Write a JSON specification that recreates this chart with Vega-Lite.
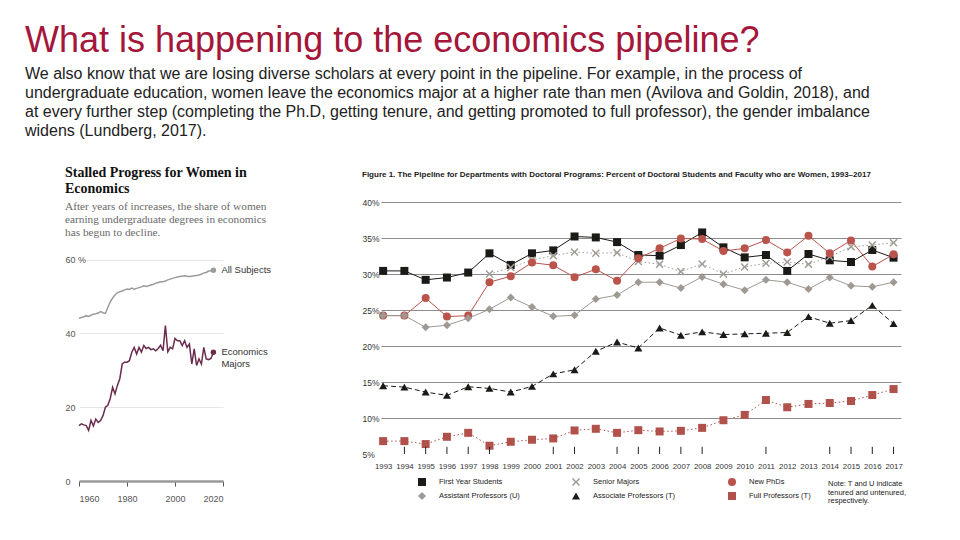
{
  "$schema": "https://vega.github.io/schema/vega-lite/v6.json",
  "background": "white",
  "padding": {"left": 25, "top": 22, "right": 5, "bottom": 5},
  "title": {
    "text": "What is happening to the economics pipeline?",
    "subtitle": [
      "\u00a0We also know that we are losing diverse scholars at every point in the pipeline. For example, in the process of",
      "\u00a0undergraduate education, women leave the economics major at a higher rate than men (Avilova and Goldin, 2018), and",
      "\u00a0at every further step (completing the Ph.D, getting tenure, and getting promoted to full professor), the gender imbalance",
      "\u00a0widens (Lundberg, 2017)."
    ],
    "anchor": "start",
    "frame": "bounds",
    "dx": -40,
    "font": "Liberation Sans",
    "fontSize": 36,
    "fontWeight": "normal",
    "color": "#a4163a",
    "subtitleFont": "Liberation Sans",
    "subtitleFontSize": 16,
    "subtitleColor": "#222222",
    "subtitleLineHeight": 19,
    "subtitlePadding": 6,
    "offset": 26
  },
  "spacing": 90,
  "datasets": {
    "left": [
      {"series": "All Subjects", "year": 1960, "pct": 44.1},
      {"series": "All Subjects", "year": 1961, "pct": 44.3},
      {"series": "All Subjects", "year": 1962, "pct": 44.5},
      {"series": "All Subjects", "year": 1963, "pct": 44.8},
      {"series": "All Subjects", "year": 1964, "pct": 44.6},
      {"series": "All Subjects", "year": 1965, "pct": 44.9},
      {"series": "All Subjects", "year": 1966, "pct": 45.2},
      {"series": "All Subjects", "year": 1967, "pct": 45.3},
      {"series": "All Subjects", "year": 1968, "pct": 45.5},
      {"series": "All Subjects", "year": 1969, "pct": 45.9},
      {"series": "All Subjects", "year": 1970, "pct": 45.6},
      {"series": "All Subjects", "year": 1971, "pct": 45.4},
      {"series": "All Subjects", "year": 1972, "pct": 47.0},
      {"series": "All Subjects", "year": 1973, "pct": 48.5},
      {"series": "All Subjects", "year": 1974, "pct": 49.6},
      {"series": "All Subjects", "year": 1975, "pct": 50.4},
      {"series": "All Subjects", "year": 1976, "pct": 51.0},
      {"series": "All Subjects", "year": 1977, "pct": 51.3},
      {"series": "All Subjects", "year": 1978, "pct": 51.5},
      {"series": "All Subjects", "year": 1979, "pct": 51.8},
      {"series": "All Subjects", "year": 1980, "pct": 52.0},
      {"series": "All Subjects", "year": 1981, "pct": 51.9},
      {"series": "All Subjects", "year": 1982, "pct": 52.3},
      {"series": "All Subjects", "year": 1983, "pct": 52.0},
      {"series": "All Subjects", "year": 1984, "pct": 52.2},
      {"series": "All Subjects", "year": 1985, "pct": 52.4},
      {"series": "All Subjects", "year": 1986, "pct": 52.6},
      {"series": "All Subjects", "year": 1987, "pct": 52.9},
      {"series": "All Subjects", "year": 1988, "pct": 52.7},
      {"series": "All Subjects", "year": 1989, "pct": 52.9},
      {"series": "All Subjects", "year": 1990, "pct": 53.1},
      {"series": "All Subjects", "year": 1991, "pct": 53.3},
      {"series": "All Subjects", "year": 1992, "pct": 53.6},
      {"series": "All Subjects", "year": 1993, "pct": 53.8},
      {"series": "All Subjects", "year": 1994, "pct": 54.0},
      {"series": "All Subjects", "year": 1995, "pct": 54.0},
      {"series": "All Subjects", "year": 1996, "pct": 54.2},
      {"series": "All Subjects", "year": 1997, "pct": 54.5},
      {"series": "All Subjects", "year": 1998, "pct": 54.7},
      {"series": "All Subjects", "year": 1999, "pct": 54.9},
      {"series": "All Subjects", "year": 2000, "pct": 55.1},
      {"series": "All Subjects", "year": 2001, "pct": 55.3},
      {"series": "All Subjects", "year": 2002, "pct": 55.4},
      {"series": "All Subjects", "year": 2003, "pct": 55.5},
      {"series": "All Subjects", "year": 2004, "pct": 55.6},
      {"series": "All Subjects", "year": 2005, "pct": 55.5},
      {"series": "All Subjects", "year": 2006, "pct": 55.4},
      {"series": "All Subjects", "year": 2007, "pct": 55.5},
      {"series": "All Subjects", "year": 2008, "pct": 55.6},
      {"series": "All Subjects", "year": 2009, "pct": 55.7},
      {"series": "All Subjects", "year": 2010, "pct": 55.8},
      {"series": "All Subjects", "year": 2011, "pct": 56.0},
      {"series": "All Subjects", "year": 2012, "pct": 56.4},
      {"series": "All Subjects", "year": 2013, "pct": 56.5},
      {"series": "All Subjects", "year": 2014, "pct": 56.9},
      {"series": "All Subjects", "year": 2015, "pct": 57.0},
      {"series": "All Subjects", "year": 2016, "pct": 57.1},
      {"series": "Economics Majors", "year": 1960, "pct": 15.0},
      {"series": "Economics Majors", "year": 1961, "pct": 15.5},
      {"series": "Economics Majors", "year": 1962, "pct": 15.2},
      {"series": "Economics Majors", "year": 1963, "pct": 15.0},
      {"series": "Economics Majors", "year": 1964, "pct": 13.7},
      {"series": "Economics Majors", "year": 1965, "pct": 16.4},
      {"series": "Economics Majors", "year": 1966, "pct": 14.9},
      {"series": "Economics Majors", "year": 1967, "pct": 16.8},
      {"series": "Economics Majors", "year": 1968, "pct": 15.9},
      {"series": "Economics Majors", "year": 1969, "pct": 16.4},
      {"series": "Economics Majors", "year": 1970, "pct": 17.7},
      {"series": "Economics Majors", "year": 1971, "pct": 20.0},
      {"series": "Economics Majors", "year": 1972, "pct": 20.5},
      {"series": "Economics Majors", "year": 1973, "pct": 22.3},
      {"series": "Economics Majors", "year": 1974, "pct": 25.4},
      {"series": "Economics Majors", "year": 1975, "pct": 23.6},
      {"series": "Economics Majors", "year": 1976, "pct": 25.9},
      {"series": "Economics Majors", "year": 1977, "pct": 27.7},
      {"series": "Economics Majors", "year": 1978, "pct": 31.7},
      {"series": "Economics Majors", "year": 1979, "pct": 32.2},
      {"series": "Economics Majors", "year": 1980, "pct": 32.2},
      {"series": "Economics Majors", "year": 1981, "pct": 32.6},
      {"series": "Economics Majors", "year": 1982, "pct": 34.9},
      {"series": "Economics Majors", "year": 1983, "pct": 36.2},
      {"series": "Economics Majors", "year": 1984, "pct": 34.4},
      {"series": "Economics Majors", "year": 1985, "pct": 36.2},
      {"series": "Economics Majors", "year": 1986, "pct": 34.9},
      {"series": "Economics Majors", "year": 1987, "pct": 36.7},
      {"series": "Economics Majors", "year": 1988, "pct": 35.9},
      {"series": "Economics Majors", "year": 1989, "pct": 36.2},
      {"series": "Economics Majors", "year": 1990, "pct": 35.6},
      {"series": "Economics Majors", "year": 1991, "pct": 35.8},
      {"series": "Economics Majors", "year": 1992, "pct": 35.3},
      {"series": "Economics Majors", "year": 1993, "pct": 35.9},
      {"series": "Economics Majors", "year": 1994, "pct": 36.8},
      {"series": "Economics Majors", "year": 1995, "pct": 35.3},
      {"series": "Economics Majors", "year": 1996, "pct": 42.1},
      {"series": "Economics Majors", "year": 1997, "pct": 35.0},
      {"series": "Economics Majors", "year": 1998, "pct": 36.2},
      {"series": "Economics Majors", "year": 1999, "pct": 35.8},
      {"series": "Economics Majors", "year": 2000, "pct": 38.6},
      {"series": "Economics Majors", "year": 2001, "pct": 38.0},
      {"series": "Economics Majors", "year": 2002, "pct": 38.0},
      {"series": "Economics Majors", "year": 2003, "pct": 36.7},
      {"series": "Economics Majors", "year": 2004, "pct": 38.0},
      {"series": "Economics Majors", "year": 2005, "pct": 36.2},
      {"series": "Economics Majors", "year": 2006, "pct": 37.1},
      {"series": "Economics Majors", "year": 2007, "pct": 31.7},
      {"series": "Economics Majors", "year": 2008, "pct": 35.8},
      {"series": "Economics Majors", "year": 2009, "pct": 31.3},
      {"series": "Economics Majors", "year": 2010, "pct": 33.1},
      {"series": "Economics Majors", "year": 2011, "pct": 31.7},
      {"series": "Economics Majors", "year": 2012, "pct": 36.2},
      {"series": "Economics Majors", "year": 2013, "pct": 33.1},
      {"series": "Economics Majors", "year": 2014, "pct": 32.9},
      {"series": "Economics Majors", "year": 2015, "pct": 33.2},
      {"series": "Economics Majors", "year": 2016, "pct": 34.9}
    ],
    "leftLabels": [
      {"series": "All Subjects", "year": 2016, "pct": 57.1, "label": "All Subjects"},
      {"series": "Economics Majors", "year": 2016, "pct": 34.9, "label": "Economics\nMajors"}
    ],
    "tickYears": [
      {"year": 1994}, {"year": 1995}, {"year": 1996}, {"year": 1997}, {"year": 1998},
      {"year": 2001}, {"year": 2002}, {"year": 2004}, {"year": 2005}, {"year": 2006},
      {"year": 2007}, {"year": 2008}, {"year": 2011}, {"year": 2014}, {"year": 2015},
      {"year": 2016}, {"year": 2017}
    ],
    "pipe": [
      {"series": "First Year Students", "year": 1993, "pct": 30.43},
      {"series": "First Year Students", "year": 1994, "pct": 30.43},
      {"series": "First Year Students", "year": 1995, "pct": 29.19},
      {"series": "First Year Students", "year": 1996, "pct": 29.51},
      {"series": "First Year Students", "year": 1997, "pct": 30.2},
      {"series": "First Year Students", "year": 1998, "pct": 32.87},
      {"series": "First Year Students", "year": 1999, "pct": 31.26},
      {"series": "First Year Students", "year": 2000, "pct": 32.87},
      {"series": "First Year Students", "year": 2001, "pct": 33.28},
      {"series": "First Year Students", "year": 2002, "pct": 35.21},
      {"series": "First Year Students", "year": 2003, "pct": 35.08},
      {"series": "First Year Students", "year": 2004, "pct": 34.43},
      {"series": "First Year Students", "year": 2005, "pct": 32.64},
      {"series": "First Year Students", "year": 2006, "pct": 32.55},
      {"series": "First Year Students", "year": 2007, "pct": 34.02},
      {"series": "First Year Students", "year": 2008, "pct": 35.77},
      {"series": "First Year Students", "year": 2009, "pct": 33.7},
      {"series": "First Year Students", "year": 2010, "pct": 32.31},
      {"series": "First Year Students", "year": 2011, "pct": 32.64},
      {"series": "First Year Students", "year": 2012, "pct": 30.43},
      {"series": "First Year Students", "year": 2013, "pct": 32.78},
      {"series": "First Year Students", "year": 2014, "pct": 31.9},
      {"series": "First Year Students", "year": 2015, "pct": 31.67},
      {"series": "First Year Students", "year": 2016, "pct": 33.33},
      {"series": "First Year Students", "year": 2017, "pct": 32.27},
      {"series": "Senior Majors", "year": 1998, "pct": 30.0},
      {"series": "Senior Majors", "year": 1999, "pct": 30.89},
      {"series": "Senior Majors", "year": 2000, "pct": 31.95},
      {"series": "Senior Majors", "year": 2001, "pct": 32.54},
      {"series": "Senior Majors", "year": 2002, "pct": 33.05},
      {"series": "Senior Majors", "year": 2003, "pct": 32.87},
      {"series": "Senior Majors", "year": 2004, "pct": 32.96},
      {"series": "Senior Majors", "year": 2005, "pct": 31.72},
      {"series": "Senior Majors", "year": 2006, "pct": 31.35},
      {"series": "Senior Majors", "year": 2007, "pct": 30.34},
      {"series": "Senior Majors", "year": 2008, "pct": 31.4},
      {"series": "Senior Majors", "year": 2009, "pct": 30.0},
      {"series": "Senior Majors", "year": 2010, "pct": 30.98},
      {"series": "Senior Majors", "year": 2011, "pct": 31.49},
      {"series": "Senior Majors", "year": 2012, "pct": 31.67},
      {"series": "Senior Majors", "year": 2013, "pct": 31.35},
      {"series": "Senior Majors", "year": 2014, "pct": 32.41},
      {"series": "Senior Majors", "year": 2015, "pct": 33.79},
      {"series": "Senior Majors", "year": 2016, "pct": 34.02},
      {"series": "Senior Majors", "year": 2017, "pct": 34.34},
      {"series": "New PhDs", "year": 1993, "pct": 24.22},
      {"series": "New PhDs", "year": 1994, "pct": 24.22},
      {"series": "New PhDs", "year": 1995, "pct": 26.65},
      {"series": "New PhDs", "year": 1996, "pct": 24.08},
      {"series": "New PhDs", "year": 1997, "pct": 24.22},
      {"series": "New PhDs", "year": 1998, "pct": 28.86},
      {"series": "New PhDs", "year": 1999, "pct": 29.69},
      {"series": "New PhDs", "year": 2000, "pct": 31.58},
      {"series": "New PhDs", "year": 2001, "pct": 31.21},
      {"series": "New PhDs", "year": 2002, "pct": 29.55},
      {"series": "New PhDs", "year": 2003, "pct": 30.66},
      {"series": "New PhDs", "year": 2004, "pct": 29.05},
      {"series": "New PhDs", "year": 2005, "pct": 32.18},
      {"series": "New PhDs", "year": 2006, "pct": 33.56},
      {"series": "New PhDs", "year": 2007, "pct": 34.94},
      {"series": "New PhDs", "year": 2008, "pct": 34.85},
      {"series": "New PhDs", "year": 2009, "pct": 33.19},
      {"series": "New PhDs", "year": 2010, "pct": 33.56},
      {"series": "New PhDs", "year": 2011, "pct": 34.71},
      {"series": "New PhDs", "year": 2012, "pct": 33.0},
      {"series": "New PhDs", "year": 2013, "pct": 35.31},
      {"series": "New PhDs", "year": 2014, "pct": 32.87},
      {"series": "New PhDs", "year": 2015, "pct": 34.66},
      {"series": "New PhDs", "year": 2016, "pct": 31.03},
      {"series": "New PhDs", "year": 2017, "pct": 32.73},
      {"series": "Assistant Professors (U)", "year": 1993, "pct": 24.22},
      {"series": "Assistant Professors (U)", "year": 1994, "pct": 24.22},
      {"series": "Assistant Professors (U)", "year": 1995, "pct": 22.6},
      {"series": "Assistant Professors (U)", "year": 1996, "pct": 22.88},
      {"series": "Assistant Professors (U)", "year": 1997, "pct": 23.85},
      {"series": "Assistant Professors (U)", "year": 1998, "pct": 25.09},
      {"series": "Assistant Professors (U)", "year": 1999, "pct": 26.75},
      {"series": "Assistant Professors (U)", "year": 2000, "pct": 25.41},
      {"series": "Assistant Professors (U)", "year": 2001, "pct": 24.12},
      {"series": "Assistant Professors (U)", "year": 2002, "pct": 24.26},
      {"series": "Assistant Professors (U)", "year": 2003, "pct": 26.52},
      {"series": "Assistant Professors (U)", "year": 2004, "pct": 27.07},
      {"series": "Assistant Professors (U)", "year": 2005, "pct": 28.86},
      {"series": "Assistant Professors (U)", "year": 2006, "pct": 28.86},
      {"series": "Assistant Professors (U)", "year": 2007, "pct": 28.04},
      {"series": "Assistant Professors (U)", "year": 2008, "pct": 29.6},
      {"series": "Assistant Professors (U)", "year": 2009, "pct": 28.59},
      {"series": "Assistant Professors (U)", "year": 2010, "pct": 27.76},
      {"series": "Assistant Professors (U)", "year": 2011, "pct": 29.19},
      {"series": "Assistant Professors (U)", "year": 2012, "pct": 28.86},
      {"series": "Assistant Professors (U)", "year": 2013, "pct": 27.9},
      {"series": "Assistant Professors (U)", "year": 2014, "pct": 29.51},
      {"series": "Assistant Professors (U)", "year": 2015, "pct": 28.36},
      {"series": "Assistant Professors (U)", "year": 2016, "pct": 28.22},
      {"series": "Assistant Professors (U)", "year": 2017, "pct": 28.86},
      {"series": "Associate Professors (T)", "year": 1993, "pct": 14.48},
      {"series": "Associate Professors (T)", "year": 1994, "pct": 14.29},
      {"series": "Associate Professors (T)", "year": 1995, "pct": 13.6},
      {"series": "Associate Professors (T)", "year": 1996, "pct": 13.14},
      {"series": "Associate Professors (T)", "year": 1997, "pct": 14.34},
      {"series": "Associate Professors (T)", "year": 1998, "pct": 14.11},
      {"series": "Associate Professors (T)", "year": 1999, "pct": 13.6},
      {"series": "Associate Professors (T)", "year": 2000, "pct": 14.39},
      {"series": "Associate Professors (T)", "year": 2001, "pct": 16.13},
      {"series": "Associate Professors (T)", "year": 2002, "pct": 16.69},
      {"series": "Associate Professors (T)", "year": 2003, "pct": 19.26},
      {"series": "Associate Professors (T)", "year": 2004, "pct": 20.55},
      {"series": "Associate Professors (T)", "year": 2005, "pct": 19.72},
      {"series": "Associate Professors (T)", "year": 2006, "pct": 22.5},
      {"series": "Associate Professors (T)", "year": 2007, "pct": 21.5},
      {"series": "Associate Professors (T)", "year": 2008, "pct": 21.96},
      {"series": "Associate Professors (T)", "year": 2009, "pct": 21.59},
      {"series": "Associate Professors (T)", "year": 2010, "pct": 21.68},
      {"series": "Associate Professors (T)", "year": 2011, "pct": 21.78},
      {"series": "Associate Professors (T)", "year": 2012, "pct": 21.87},
      {"series": "Associate Professors (T)", "year": 2013, "pct": 24.08},
      {"series": "Associate Professors (T)", "year": 2014, "pct": 23.16},
      {"series": "Associate Professors (T)", "year": 2015, "pct": 23.53},
      {"series": "Associate Professors (T)", "year": 2016, "pct": 25.64},
      {"series": "Associate Professors (T)", "year": 2017, "pct": 23.11},
      {"series": "Full Professors (T)", "year": 1993, "pct": 6.79},
      {"series": "Full Professors (T)", "year": 1994, "pct": 6.79},
      {"series": "Full Professors (T)", "year": 1995, "pct": 6.38},
      {"series": "Full Professors (T)", "year": 1996, "pct": 7.39},
      {"series": "Full Professors (T)", "year": 1997, "pct": 7.94},
      {"series": "Full Professors (T)", "year": 1998, "pct": 6.15},
      {"series": "Full Professors (T)", "year": 1999, "pct": 6.7},
      {"series": "Full Professors (T)", "year": 2000, "pct": 6.98},
      {"series": "Full Professors (T)", "year": 2001, "pct": 7.16},
      {"series": "Full Professors (T)", "year": 2002, "pct": 8.27},
      {"series": "Full Professors (T)", "year": 2003, "pct": 8.5},
      {"series": "Full Professors (T)", "year": 2004, "pct": 7.94},
      {"series": "Full Professors (T)", "year": 2005, "pct": 8.31},
      {"series": "Full Professors (T)", "year": 2006, "pct": 8.13},
      {"series": "Full Professors (T)", "year": 2007, "pct": 8.22},
      {"series": "Full Professors (T)", "year": 2008, "pct": 8.63},
      {"series": "Full Professors (T)", "year": 2009, "pct": 9.69},
      {"series": "Full Professors (T)", "year": 2010, "pct": 10.43},
      {"series": "Full Professors (T)", "year": 2011, "pct": 12.5},
      {"series": "Full Professors (T)", "year": 2012, "pct": 11.49},
      {"series": "Full Professors (T)", "year": 2013, "pct": 11.95},
      {"series": "Full Professors (T)", "year": 2014, "pct": 12.08},
      {"series": "Full Professors (T)", "year": 2015, "pct": 12.36},
      {"series": "Full Professors (T)", "year": 2016, "pct": 13.19},
      {"series": "Full Professors (T)", "year": 2017, "pct": 14.02}
    ]
  },
  "hconcat": [
    {
      "width": 144,
      "height": 279,
      "title": {
        "text": ["Stalled Progress for Women in", "Economics"],
        "subtitle": ["After years of increases, the share of women", "earning undergraduate degrees in economics", "has begun to decline."],
        "anchor": "start",
        "frame": "bounds",
        "font": "Liberation Serif",
        "fontSize": 14,
        "fontWeight": "bold",
        "color": "#111111",
        "lineHeight": 16,
        "subtitleFont": "Liberation Serif",
        "subtitleFontSize": 11.3,
        "subtitleColor": "#6a6a6a",
        "subtitleLineHeight": 13,
        "subtitlePadding": 5,
        "offset": -36
      },
      "layer": [
        {
          "data": {"name": "left"},
          "mark": {"type": "line", "strokeWidth": 1.5},
          "encoding": {
            "x": {"field": "year", "type": "quantitative", "scale": {"domain": [1960, 2020]},
              "axis": {"values": [1960, 1980, 2000, 2020], "format": "d", "title": null, "grid": false,
                "domainColor": "#9a9a9a", "domainWidth": 2.5, "tickColor": "#555555", "tickSize": 5,
                "labelFont": "Liberation Sans", "labelFontSize": 9, "labelColor": "#555555", "labelPadding": 8}},
            "y": {"field": "pct", "type": "quantitative", "scale": {"domain": [0, 75.6], "nice": false},
              "axis": {"values": [0, 20, 40, 60], "labelExpr": "datum.value == 60 ? '60 %' : datum.label", "title": null,
                "ticks": false, "domain": false, "labelAlign": "left", "labelPadding": 14,
                "labelFont": "Liberation Sans", "labelFontSize": 9, "labelColor": "#555555",
                "gridColor": "#e6e6e6", "gridWidth": 1}},
            "stroke": {"field": "series", "type": "nominal",
              "scale": {"domain": ["All Subjects", "Economics Majors"], "range": ["#9b9b9b", "#6b2c4e"]}, "legend": null}
          }
        },
        {
          "data": {"name": "leftLabels"},
          "mark": {"type": "point", "filled": true, "size": 30, "opacity": 1},
          "encoding": {
            "x": {"field": "year", "type": "quantitative"},
            "y": {"field": "pct", "type": "quantitative"},
            "fill": {"field": "series", "type": "nominal",
              "scale": {"domain": ["All Subjects", "Economics Majors"], "range": ["#9b9b9b", "#6b2c4e"]}, "legend": null}
          }
        },
        {
          "data": {"name": "leftLabels"},
          "mark": {"type": "text", "align": "left", "baseline": "middle", "dx": 8, "dy": 0, "font": "Liberation Sans", "fontSize": 9.5, "color": "#333333", "lineBreak": "\n", "lineHeight": 12},
          "encoding": {
            "x": {"field": "year", "type": "quantitative"},
            "y": {"field": "pct", "type": "quantitative"},
            "text": {"field": "label"}
          }
        }
      ]
    },
    {
      "width": 520,
      "height": 252,
      "title": {
        "text": "Figure 1. The Pipeline for Departments with Doctoral Programs: Percent of Doctoral Students and Faculty who are Women, 1993\u20132017",
        "anchor": "start",
        "frame": "bounds",
        "font": "Liberation Sans",
        "fontSize": 8,
        "fontWeight": "bold",
        "color": "#1a1a1a",
        "limit": 700,
        "offset": 19
      },
      "layer": [
        {
          "data": {"name": "pipe"},
          "encoding": {
            "x": {"field": "year", "type": "quantitative", "scale": {"domain": [1992.9, 2017.35], "nice": false, "zero": false},
              "axis": {"values": [1993, 1994, 1995, 1996, 1997, 1998, 1999, 2000, 2001, 2002, 2003, 2004, 2005, 2006, 2007, 2008, 2009, 2010, 2011, 2012, 2013, 2014, 2015, 2016, 2017],
                "format": "d", "title": null, "ticks": false, "domain": false, "grid": false, "labelPadding": 8, "labelOverlap": false,
                "labelFont": "Liberation Sans", "labelFontSize": 7.8, "labelColor": "#333333"}},
            "y": {"field": "pct", "type": "quantitative", "scale": {"domain": [5, 40], "nice": false, "zero": false},
              "axis": {"values": [5, 10, 15, 20, 25, 30, 35, 40], "labelExpr": "datum.value + '%'", "title": null,
                "ticks": false, "domain": false, "labelAlign": "left", "labelPadding": 19, "labelOverlap": false,
                "labelFont": "Liberation Sans", "labelFontSize": 8.5, "labelColor": "#333333",
                "grid": true, "gridWidth": 1,
                "gridColor": {"condition": {"test": "datum.value <= 5", "value": "transparent"}, "value": "#8c8c8c"}}}
          },
          "layer": [
            {
              "transform": [{"filter": "datum.series == 'First Year Students'"}],
              "mark": {"type": "line", "strokeWidth": 1, "color": "#1c1a16"}
            },
            {
              "transform": [{"filter": "datum.series == 'Senior Majors'"}],
              "mark": {"type": "line", "strokeWidth": 1, "color": "#a19c96", "strokeDash": [1.5, 2.5]}
            },
            {
              "transform": [{"filter": "datum.series == 'New PhDs'"}],
              "mark": {"type": "line", "strokeWidth": 1, "color": "#b9534c"}
            },
            {
              "transform": [{"filter": "datum.series == 'Assistant Professors (U)'"}],
              "mark": {"type": "line", "strokeWidth": 1, "color": "#9e9a93"}
            },
            {
              "transform": [{"filter": "datum.series == 'Associate Professors (T)'"}],
              "mark": {"type": "line", "strokeWidth": 1, "color": "#1c1a16", "strokeDash": [5, 3]}
            },
            {
              "transform": [{"filter": "datum.series == 'Full Professors (T)'"}],
              "mark": {"type": "line", "strokeWidth": 1, "color": "#b0524b", "strokeDash": [1.5, 2.5]}
            },
            {
              "mark": {"type": "point", "filled": true, "opacity": 1, "size": 64},
              "encoding": {
                "color": {"field": "series", "type": "nominal",
                  "scale": {"domain": ["First Year Students", "Senior Majors", "New PhDs", "Assistant Professors (U)", "Associate Professors (T)", "Full Professors (T)"],
                    "range": ["#1c1a16", "#a19c96", "#b9534c", "#9e9a93", "#1c1a16", "#b0524b"]},
                  "legend": {"orient": "none", "legendX": 338, "legendY": 275, "columns": 3, "direction": "horizontal",
                    "title": ["Note: T and U indicate", "tenured and untenured,", "respectively."], "titleOrient": "right",
                    "titleFont": "Liberation Sans", "titleFontSize": 7.5, "titleFontWeight": "normal",
                    "titleColor": "#222222", "titleLineHeight": 8.5, "titlePadding": 17, "titleBaseline": "top",
                    "labelFont": "Liberation Sans", "labelFontSize": 7.5, "labelColor": "#222222",
                    "symbolSize": 64, "labelOffset": 12, "columnPadding": 51, "rowPadding": 5}},
                "shape": {"field": "series", "type": "nominal",
                  "scale": {"domain": ["First Year Students", "Senior Majors", "New PhDs", "Assistant Professors (U)", "Associate Professors (T)", "Full Professors (T)"],
                    "range": ["square", "M-0.75,-1L0,-0.25L0.75,-1L1,-0.75L0.3,0L1,0.75L0.75,1L0,0.25L-0.75,1L-1,0.75L-0.3,0L-1,-0.75Z", "circle", "diamond", "triangle-up", "square"]},
                  "legend": {"orient": "none", "legendX": 338, "legendY": 275, "columns": 3, "direction": "horizontal",
                    "title": ["Note: T and U indicate", "tenured and untenured,", "respectively."], "titleOrient": "right",
                    "titleFont": "Liberation Sans", "titleFontSize": 7.5, "titleFontWeight": "normal",
                    "titleColor": "#222222", "titleLineHeight": 8.5, "titlePadding": 17, "titleBaseline": "top",
                    "labelFont": "Liberation Sans", "labelFontSize": 7.5, "labelColor": "#222222",
                    "symbolSize": 64, "labelOffset": 12, "columnPadding": 51, "rowPadding": 5}}
              }
            }
          ]
        },
        {
          "data": {"name": "tickYears"},
          "mark": {"type": "rule", "color": "#222222", "strokeWidth": 1},
          "encoding": {
            "x": {"field": "year", "type": "quantitative", "scale": {"domain": [1992.9, 2017.35], "nice": false, "zero": false},
              "axis": {"values": [1993, 1994, 1995, 1996, 1997, 1998, 1999, 2000, 2001, 2002, 2003, 2004, 2005, 2006, 2007, 2008, 2009, 2010, 2011, 2012, 2013, 2014, 2015, 2016, 2017],
                "format": "d", "title": null, "ticks": false, "domain": false, "grid": false, "labelPadding": 8, "labelOverlap": false,
                "labelFont": "Liberation Sans", "labelFontSize": 7.8, "labelColor": "#333333"}},
            "y": {"datum": 5, "type": "quantitative", "scale": {"domain": [5, 40], "nice": false, "zero": false},
              "axis": {"values": [5, 10, 15, 20, 25, 30, 35, 40], "labelExpr": "datum.value + '%'", "title": null,
                "ticks": false, "domain": false, "labelAlign": "left", "labelPadding": 19, "labelOverlap": false,
                "labelFont": "Liberation Sans", "labelFontSize": 8.5, "labelColor": "#333333",
                "grid": true, "gridWidth": 1,
                "gridColor": {"condition": {"test": "datum.value <= 5", "value": "transparent"}, "value": "#8c8c8c"}}},
            "y2": {"datum": 6}
          }
        }
      ]
    }
  ],
  "config": {
    "view": {"stroke": null},
    "font": "Liberation Sans"
  }
}
